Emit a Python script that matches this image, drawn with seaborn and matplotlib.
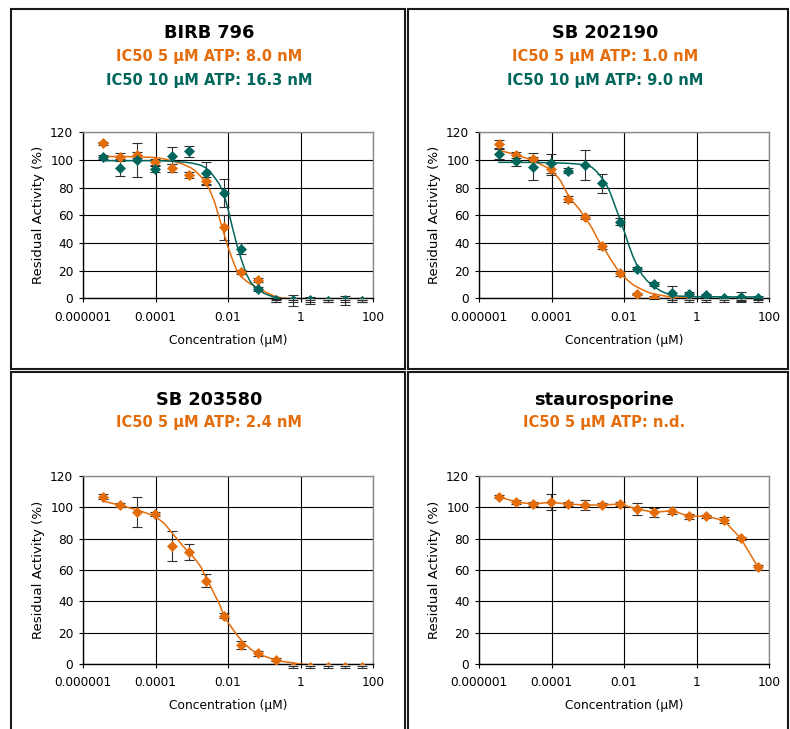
import matplotlib
matplotlib.use("Agg")
import matplotlib.pyplot as plt
import seaborn as sns
import pandas as pd
from matplotlib.patches import Rectangle

# ---------------- data ----------------
conc = [0.0000035, 0.0000105, 0.000031, 0.000094, 0.00028, 0.00085, 0.0025, 0.0076,
        0.023, 0.069, 0.21, 0.62, 1.85, 5.6, 16.7, 50]

curve_conc = [3.5e-6, 1e-5, 3.16e-5, 1e-4, 1.78e-4, 3.16e-4, 5.62e-4, 1e-3, 1.33e-3,
              1.78e-3, 2.37e-3, 3.16e-3, 4.22e-3, 5.62e-3, 7.5e-3, 1e-2, 1.33e-2,
              1.78e-2, 2.37e-2, 3.16e-2, 4.22e-2, 5.62e-2, 0.1, 0.178, 0.316, 1,
              3.16, 10, 50]

# BIRB 796
birb_5 = [112.0, 102.2, 103.6, 98.6, 94.0, 89.2, 84.8, 51.3, 19.3, 13.3, -2.0, -2.0, -2.0, -2.0, -2.0, -2.0]
birb_5_err = [1.0, 3.0, 2.0, 2.0, 3.0, 2.0, 3.0, 9.0, 1.5, 1.5, 0.6, 0.6, 0.6, 0.6, 0.6, 0.6]
birb_10 = [102.4, 94.5, 100.0, 93.3, 103.1, 106.3, 90.4, 75.9, 35.9, 7.0, -1.5, -1.5, -1.5, -2.0, -1.5, -2.0]
birb_10_err = [1.5, 6.0, 12.0, 2.0, 6.0, 4.0, 8.0, 10.0, 4.0, 1.5, 1.0, 4.0, 2.5, 0.5, 3.5, 0.5]
birb_5_fit = [102.5, 102.5, 102.3, 101.8, 100.7, 99.0, 97.0, 94.0, 91.5, 88.0, 84.0, 78.0,
              70.0, 59.0, 48.0, 37.0, 28.0, 19.5, 15.5, 12.5, 10.3, 8.5, 5.0, 1.8, 0.2,
              -0.8, -1.0, -1.0, -1.0]
birb_10_fit = [99.5, 99.5, 99.5, 99.5, 99.3, 99.0, 98.5, 97.8, 97.0, 96.2, 94.5, 92.0,
               87.5, 83.0, 76.5, 64.5, 51.0, 38.0, 27.5, 18.0, 11.5, 8.0, 3.5, 1.0, -0.3,
               -0.5, -0.5, -0.5, -0.5]

# SB 202190
sb2190_5 = [111.3, 103.4, 100.5, 93.3, 71.6, 58.6, 37.8, 18.0, 3.1, 0.5, -2.0, -2.0, -2.0, -2.0, -2.0, -2.0]
sb2190_5_err = [3.0, 2.0, 1.5, 4.0, 2.0, 1.5, 2.5, 2.0, 1.0, 1.0, 0.6, 0.6, 0.6, 0.6, 0.6, 0.6]
sb2190_10 = [104.1, 99.3, 95.2, 97.6, 92.3, 96.4, 83.1, 55.4, 21.0, 10.1, 4.1, 3.1, 2.2, 0.5, 1.2, 0.5]
sb2190_10_err = [3.5, 4.0, 10.0, 7.0, 2.0, 11.0, 7.0, 2.5, 1.5, 1.5, 5.0, 1.5, 1.0, 0.5, 3.0, 1.0]
sb2190_5_fit = [107.0, 104.0, 99.5, 93.0, 85.0, 72.5, 65.0, 55.5, 50.5, 44.0, 38.5, 34.0,
                28.5, 23.5, 18.5, 15.5, 12.5, 9.8, 8.0, 6.3, 4.8, 3.6, 2.2, 1.2, 0.5,
                -0.3, -0.5, -0.5, -0.5]
sb2190_10_fit = [98.3, 98.3, 98.2, 98.0, 97.8, 97.5, 97.0, 96.0, 94.5, 91.5, 87.5, 83.0,
                 76.0, 67.0, 58.0, 49.0, 39.0, 30.0, 23.0, 17.0, 13.0, 10.0, 5.5, 2.6,
                 1.6, 1.2, 1.1, 1.0, 1.0]

# SB 203580
sb3580_5 = [106.8, 101.5, 97.2, 95.7, 75.3, 71.3, 53.2, 30.9, 12.1, 6.8, 2.6, -2.0, -2.0, -2.0, -2.0, -2.0]
sb3580_5_err = [1.5, 1.0, 9.5, 1.5, 9.5, 5.0, 4.0, 1.5, 2.5, 1.5, 1.0, 0.6, 0.6, 0.6, 0.6, 0.6]
sb3580_5_fit = [104.0, 101.5, 98.3, 94.3, 89.5, 82.5, 75.5, 69.5, 66.0, 62.0, 56.0, 50.5,
                44.5, 39.0, 31.5, 26.5, 22.5, 18.5, 15.0, 12.0, 9.5, 7.5, 5.0, 3.0, 1.7,
                0.0, -1.0, -1.4, -1.7]

# staurosporine
stauro_5 = [106.8, 103.4, 102.1, 103.2, 102.1, 101.5, 101.5, 102.1, 98.9, 96.8, 97.9, 94.3, 94.3, 91.7, 80.2, 61.7]
stauro_5_err = [1.0, 1.0, 1.0, 5.0, 1.0, 3.5, 1.0, 1.5, 4.0, 3.0, 2.0, 1.5, 1.0, 2.0, 1.0, 1.5]

x_ticks = [1e-6, 1e-4, 1e-2, 1, 100]
x_ticklabels = ["0.000001", "0.0001", "0.01", "1", "100"]
y_ticks = [0, 20, 40, 60, 80, 100, 120]

titles = ["BIRB 796", "SB 202190", "SB 203580", "staurosporine"]
sub5 = ["IC50 5 \u00b5M ATP: 8.0 nM", "IC50 5 \u00b5M ATP: 1.0 nM",
        "IC50 5 \u00b5M ATP: 2.4 nM", "IC50 5 \u00b5M ATP: n.d."]
sub10 = ["IC50 10 \u00b5M ATP: 16.3 nM", "IC50 10 \u00b5M ATP: 9.0 nM", None, None]

ORANGE = "#E46C0A"
GREEN = "#00665C"

# ---------------- style ----------------
sns.set_theme(style="ticks", rc={"text.color": "black", "axes.labelcolor": "black",
                                 "xtick.color": "black", "ytick.color": "black"})
plt.rcParams['font.family'] = ['DejaVu Sans']

W, H = 790, 729
fig = plt.figure(figsize=(W / 100, H / 100), dpi=100)
fig.patch.set_facecolor("white")

# panel borders
for (x0, y0, x1, y1) in [(11, 9, 405, 369), (408, 9, 788, 369),
                         (11, 372, 405, 735), (408, 372, 788, 735)]:
    fig.patches.append(Rectangle((x0 / W, 1 - y1 / H), (x1 - x0) / W, (y1 - y0) / H,
                                 transform=fig.transFigure, fill=False,
                                 edgecolor="#1a1a1a", linewidth=1.5, zorder=0))


def make_ax(x0, x1, ytop, ybot):
    ax = fig.add_axes([x0 / W, 1 - ybot / H, (x1 - x0) / W, (ybot - ytop) / H])
    ax.set_xscale("log")
    return ax


def style_ax(ax):
    ax.set_xlim(1e-6, 100)
    ax.set_ylim(0, 120)
    ax.set_xticks(x_ticks)
    ax.set_xticklabels(x_ticklabels)
    ax.set_yticks(y_ticks)
    ax.minorticks_off()
    ax.grid(True, color="black", linewidth=0.8)
    ax.set_axisbelow(True)
    for s in ["top", "right"]:
        ax.spines[s].set_color("#8a8a8a")
        ax.spines[s].set_linewidth(1.0)
    for s in ["left", "bottom"]:
        ax.spines[s].set_color("black")
        ax.spines[s].set_linewidth(1.0)
    ax.tick_params(axis="both", direction="out", length=3, width=0.8,
                   labelsize=8.7, left=True, bottom=True)
    ax.tick_params(axis="x", pad=6)
    ax.tick_params(axis="y", pad=4)
    ax.set_xlabel("Concentration (\u00b5M)", fontsize=8.8, labelpad=7)
    ax.set_ylabel("Residual Activity (%)", fontsize=9.6, labelpad=4)


def draw_series(ax, vals, err, color, fit=None, connect=False):
    eb = ax.errorbar(conc, vals, yerr=err, fmt="none", ecolor="#303030",
                     elinewidth=0.8, capsize=3.4, capthick=0.8, zorder=2)
    for art in eb.lines[1] + eb.lines[2]:
        art.set_clip_on(False)
    if fit is not None:
        sns.lineplot(data=pd.DataFrame({"c": curve_conc, "v": fit}), x="c", y="v",
                     ax=ax, color=color, linewidth=1.1, sort=False,
                     estimator=None, zorder=3)
    if connect:
        sns.lineplot(data=pd.DataFrame({"c": conc, "v": vals}), x="c", y="v",
                     ax=ax, color=color, linewidth=1.1, sort=False,
                     estimator=None, zorder=3)
    sns.scatterplot(data=pd.DataFrame({"c": conc, "v": vals}), x="c", y="v",
                    ax=ax, marker="D", s=26, color=color, edgecolor=color,
                    linewidth=0.5, zorder=4)


axes_geom = [(83, 373, 132.3, 298.3), (479, 769, 132.3, 298.3),
             (83, 373, 476, 664), (479, 769, 476, 664)]
axs = [make_ax(*g) for g in axes_geom]

draw_series(axs[0], birb_5, birb_5_err, ORANGE, fit=birb_5_fit)
draw_series(axs[0], birb_10, birb_10_err, GREEN, fit=birb_10_fit)
draw_series(axs[1], sb2190_5, sb2190_5_err, ORANGE, fit=sb2190_5_fit)
draw_series(axs[1], sb2190_10, sb2190_10_err, GREEN, fit=sb2190_10_fit)
draw_series(axs[2], sb3580_5, sb3580_5_err, ORANGE, fit=sb3580_5_fit)
draw_series(axs[3], stauro_5, stauro_5_err, ORANGE, connect=True)

for ax in axs:
    style_ax(ax)

# titles
title_pos = [(209, 33, 57, 81), (605, 33, 57, 81), (209, 400, 423, None), (604, 400, 423, None)]
for i, (cx, ty, oy, gy) in enumerate(title_pos):
    fig.text(cx / W, 1 - ty / H, titles[i], ha="center", va="center",
             fontsize=12.8, fontweight="bold", color="black")
    fig.text(cx / W, 1 - oy / H, sub5[i], ha="center", va="center",
             fontsize=10.5, fontweight="bold", color=ORANGE)
    if sub10[i] is not None:
        fig.text(cx / W, 1 - gy / H, sub10[i], ha="center", va="center",
                 fontsize=10.5, fontweight="bold", color=GREEN)

fig.savefig("out.png", dpi=100, facecolor="white")
